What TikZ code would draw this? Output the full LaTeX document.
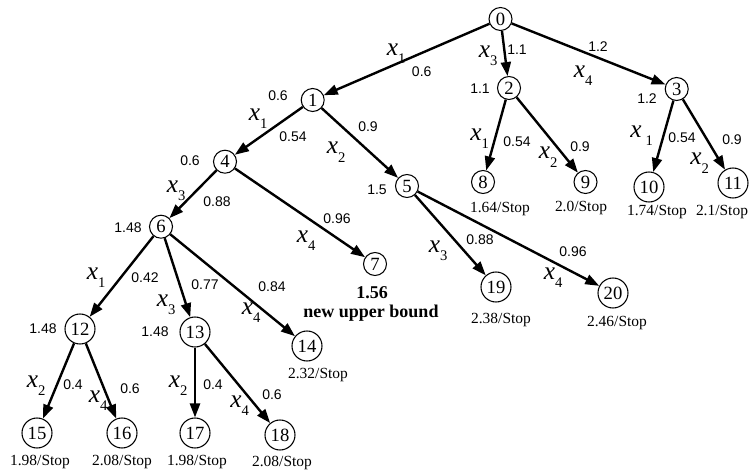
\documentclass[tikz,border=0pt]{standalone}
\usepackage{fontspec}
\setmainfont{Liberation Serif}
\newfontfamily\sansnum{Liberation Sans}
\usetikzlibrary{arrows.meta}
\newcommand\xsub[1]{{\fontsize{19}{19}\selectfont\itshape x}\raisebox{-6pt}{\fontsize{11}{11}\selectfont #1}}
\begin{document}
\begin{tikzpicture}[x=0.75pt,y=-0.75pt,
  nd/.style={circle,draw,line width=0.8pt,inner sep=0pt,minimum size=17.25pt,font=\fontsize{14}{14}\selectfont},
  ndd/.style={nd,minimum size=22.5pt},
  edge/.style={line width=1.8pt,-{Triangle[length=10.5pt,width=7.5pt]}},
  num/.style={inner sep=0pt,font=\sansnum\fontsize{10.5}{10.5}\selectfont},
  stoplab/.style={inner sep=0pt,font=\fontsize{11.6}{11.6}\selectfont},
  xl/.style={inner sep=0pt,anchor=base west},
  boldlab/.style={inner sep=0pt,font=\bfseries\fontsize{13.5}{13.5}\selectfont}]
\useasboundingbox (0,0) rectangle (749,474);
% nodes
\node[nd] (n0) at (500.5,19) {0};
\node[nd] (n1) at (312.7,100) {1};
\node[nd] (n2) at (509,88) {2};
\node[nd] (n3) at (676.7,89) {3};
\node[nd] (n4) at (225,161.7) {4};
\node[nd] (n5) at (407,186) {5};
\node[nd] (n6) at (161,226.7) {6};
\node[nd] (n7) at (375,264) {7};
\node[nd] (n8) at (483,182) {8};
\node[nd] (n9) at (585.5,182) {9};
\node[ndd] (n10) at (649,187) {10};
\node[ndd] (n11) at (733,183) {11};
\node[ndd] (n12) at (80,329) {12};
\node[ndd] (n13) at (195,332) {13};
\node[ndd] (n14) at (307,346) {14};
\node[ndd] (n15) at (37,433) {15};
\node[ndd] (n16) at (122,433) {16};
\node[ndd] (n17) at (195,433) {17};
\node[ndd] (n18) at (280,435) {18};
\node[ndd] (n19) at (496,287) {19};
\node[ndd] (n20) at (613,293) {20};
% edges
\draw[edge] (n0) -- (n1);
\draw[edge] (n0) -- (n2);
\draw[edge] (n0) -- (n3);
\draw[edge] (n2) -- (n8);
\draw[edge] (n2) -- (n9);
\draw[edge] (n3) -- (n10);
\draw[edge] (n3) -- (n11);
\draw[edge] (n1) -- (n4);
\draw[edge] (n1) -- (n5);
\draw[edge] (n4) -- (n6);
\draw[edge] (n4) -- (n7);
\draw[edge] (n5) -- (n19);
\draw[edge] (n5) -- (n20);
\draw[edge] (n6) -- (n12);
\draw[edge] (n6) -- (n13);
\draw[edge] (n6) -- (n14);
\draw[edge] (n12) -- (n15);
\draw[edge] (n12) -- (n16);
\draw[edge] (n13) -- (n17);
\draw[edge] (n13) -- (n18);
% edge numbers
\node[num] (e01) at (421.7,71.7) {0.6};
\node[num] (e02) at (517,50) {1.1};
\node[num] (e03) at (598,47) {1.2};
\node[num] (e28) at (517,142) {0.54};
\node[num] (e29) at (580,147) {0.9};
\node[num] (e310) at (682,138) {0.54};
\node[num] (e311) at (732,140) {0.9};
\node[num] (e14) at (293,137) {0.54};
\node[num] (e15) at (368,127) {0.9};
\node[num] (e46) at (217,202) {0.88};
\node[num] (e47) at (337,219) {0.96};
\node[num] (e519) at (480,240) {0.88};
\node[num] (e520) at (573,252) {0.96};
\node[num] (e612) at (145,278) {0.42};
\node[num] (e613) at (205,285) {0.77};
\node[num] (e614) at (272,287) {0.84};
\node[num] (e1215) at (73,385) {0.4};
\node[num] (e1216) at (130,389) {0.6};
\node[num] (e1317) at (213,385) {0.4};
\node[num] (e1318) at (272,395) {0.6};
% node side values
\node[num] (v1) at (278,96) {0.6};
\node[num] (v2) at (480,89) {1.1};
\node[num] (v3) at (647,99) {1.2};
\node[num] (v4) at (190,161) {0.6};
\node[num] (v5) at (377,190) {1.5};
\node[num] (v6) at (128,228) {1.48};
\node[num] (v12) at (43,329) {1.48};
\node[num] (v13) at (155,332) {1.48};
% variable labels
\node[xl] (x01) at (386.5,56) {\xsub{1}};
\node[xl] (x02) at (478.5,58) {\xsub{3}};
\node[xl] (x03) at (573.5,78) {\xsub{4}};
\node[xl] (x28) at (470,141) {\xsub{1}};
\node[xl] (x29) at (538.5,159) {\xsub{2}};
\node[xl] (x310) at (630,137.7) {{\fontsize{19}{19}\selectfont\itshape x}\hspace{3pt}\raisebox{-6pt}{\fontsize{11}{11}\selectfont 1}};
\node[xl] (x311) at (690,165) {\xsub{2}};
\node[xl] (x14) at (248.5,121) {\xsub{1}};
\node[xl] (x15) at (326.5,154) {\xsub{2}};
\node[xl] (x46) at (166.5,192.7) {\xsub{3}};
\node[xl] (x47) at (296.5,242.7) {\xsub{4}};
\node[xl] (x519) at (428.5,252.7) {\xsub{3}};
\node[xl] (x520) at (543.5,279) {\xsub{4}};
\node[xl] (x612) at (86.5,279) {\xsub{1}};
\node[xl] (x613) at (156.5,306) {\xsub{3}};
\node[xl] (x614) at (241.5,314) {\xsub{4}};
\node[xl] (x1215) at (26.5,387.7) {\xsub{2}};
\node[xl] (x1216) at (88.5,402.7) {\xsub{4}};
\node[xl] (x1317) at (168.5,387.7) {\xsub{2}};
\node[xl] (x1318) at (230,407.7) {\xsub{4}};
% stop labels
\node[stoplab] (s8) at (500,209) {1.64/Stop};
\node[stoplab] (s9) at (581,208) {2.0/Stop};
\node[stoplab] (s10) at (657,212) {1.74/Stop};
\node[stoplab] (s11) at (722,212) {2.1/Stop};
\node[stoplab] (s14) at (318,375) {2.32/Stop};
\node[stoplab] (s19) at (501,320) {2.38/Stop};
\node[stoplab] (s20) at (617,323) {2.46/Stop};
\node[stoplab] (s15) at (40,462) {1.98/Stop};
\node[stoplab] (s16) at (122,462) {2.08/Stop};
\node[stoplab] (s17) at (197,462) {1.98/Stop};
\node[stoplab] (s18) at (282,463) {2.08/Stop};
\node[boldlab] (b7) at (372,292.5) {1.56};
\node[boldlab] (u7) at (371,313) {new upper bound};
\end{tikzpicture}
\end{document}
